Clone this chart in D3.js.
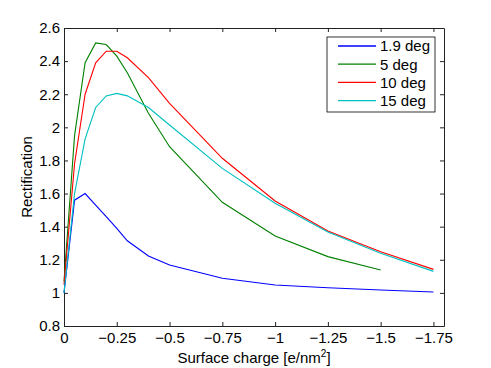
<!DOCTYPE html>
<html>
<head>
<meta charset="utf-8">
<script src="https://cdn.jsdelivr.net/npm/d3@7"></script>
<style>
  body { margin: 0; background: #fff; }
  text { font-family: "Liberation Sans", Arial, sans-serif; }
</style>
</head>
<body>
<div id="chart"></div>
<script>
// surface charge values (e/nm^2), shared by all series
const CHARGE = [0, -0.05, -0.1, -0.15, -0.2, -0.25, -0.3, -0.4, -0.5, -0.75, -1, -1.25, -1.5, -1.75];

// rectification
const DEG_1_9 = [1.0, 1.56, 1.60, 1.53, 1.46, 1.39, 1.315, 1.223, 1.168, 1.088, 1.048, 1.031, 1.017, 1.005];
const DEG_5 = [1.07, 1.95, 2.39, 2.51, 2.50, 2.43, 2.33, 2.085, 1.883, 1.547, 1.344, 1.219, 1.138];
const DEG_10 = [1.05, 1.78, 2.20, 2.39, 2.46, 2.46, 2.42, 2.30, 2.145, 1.813, 1.555, 1.374, 1.249, 1.142];
const DEG_15 = [1.0, 1.6, 1.93, 2.12, 2.19, 2.205, 2.19, 2.12, 2.014, 1.752, 1.541, 1.368, 1.239, 1.13];

const SERIES_NAMES = ["1.9 deg", "5 deg", "10 deg", "15 deg"];
const SERIES_VALUES = [DEG_1_9, DEG_5, DEG_10, DEG_15];
const COLORS = ["#0000ff", "#008000", "#ff0000", "#00bfbf"];

const X_TICKS = [0, -0.25, -0.5, -0.75, -1, -1.25, -1.5, -1.75];
const Y_TICKS = [0.8, 1, 1.2, 1.4, 1.6, 1.8, 2, 2.2, 2.4, 2.6];

const WIDTH = 491;
const HEIGHT = 368;
const margin = { left: 64, right: 47, top: 28, bottom: 42 };
const FONT = 15;

const svg = d3.select("#chart")
  .append("svg")
  .attr("width", WIDTH)
  .attr("height", HEIGHT);

const xScale = d3.scaleLinear()
  .domain([0, -1.8])
  .range([margin.left, WIDTH - margin.right]);
const yScale = d3.scaleLinear()
  .domain([0.8, 2.6])
  .range([HEIGHT - margin.bottom, margin.top]);

const fmtX = d => d === 0 ? "0" : "\u2212" + Math.abs(d);
const fmtY = d => String(d);

// axes: ticks point inward on all four sides, matlab style
const xAxis = svg.append("g")
  .attr("transform", `translate(0, ${yScale.range()[0]})`)
  .call(d3.axisBottom(xScale).tickValues(X_TICKS).tickFormat(fmtX)
    .tickSizeInner(-4).tickSizeOuter(0).tickPadding(6));
svg.append("g")
  .attr("transform", `translate(0, ${yScale.range()[1]})`)
  .call(d3.axisTop(xScale).tickValues(X_TICKS).tickFormat("")
    .tickSizeInner(-4).tickSizeOuter(0));
const yAxis = svg.append("g")
  .attr("transform", `translate(${xScale.range()[0]}, 0)`)
  .call(d3.axisLeft(yScale).tickValues(Y_TICKS).tickFormat(fmtY)
    .tickSizeInner(-4).tickSizeOuter(0).tickPadding(4));
svg.append("g")
  .attr("transform", `translate(${xScale.range()[1]}, 0)`)
  .call(d3.axisRight(yScale).tickValues(Y_TICKS).tickFormat("")
    .tickSizeInner(-4).tickSizeOuter(0));

svg.selectAll(".domain").attr("stroke", "#222");
svg.selectAll(".tick line").attr("stroke", "#222");
svg.selectAll(".tick text")
  .attr("font-size", FONT)
  .attr("font-family", "Liberation Sans, Arial, sans-serif")
  .attr("fill", "#000");

// lines
const line = d3.line()
  .x((d, i) => xScale(CHARGE[i]))
  .y(d => yScale(d));

svg.append("g")
  .selectAll("path")
  .data(SERIES_VALUES)
  .join("path")
  .attr("d", d => line(d))
  .attr("fill", "none")
  .attr("stroke", (d, i) => COLORS[i])
  .attr("stroke-width", 1.1);

// axis labels
const xLabel = svg.append("text")
  .attr("x", (xScale.range()[0] + xScale.range()[1]) / 2)
  .attr("y", 363)
  .attr("text-anchor", "middle")
  .attr("font-size", FONT);
xLabel.append("tspan").text("Surface charge [e/nm");
xLabel.append("tspan").attr("font-size", 10).attr("dy", -6).text("2");
xLabel.append("tspan").attr("dy", 6).text("]");

svg.append("text")
  .attr("transform", `translate(32, ${(yScale.range()[0] + yScale.range()[1]) / 2}) rotate(-90)`)
  .attr("text-anchor", "middle")
  .attr("font-size", FONT)
  .text("Rectification");

// legend
const legend = svg.append("g").attr("transform", "translate(327, 37)");
legend.append("rect")
  .attr("width", 108)
  .attr("height", 75)
  .attr("fill", "#fff")
  .attr("stroke", "#000")
  .attr("stroke-width", 0.8);

const row = legend.selectAll(".legend-row")
  .data(SERIES_NAMES)
  .join("g")
  .attr("class", "legend-row")
  .attr("transform", (d, i) => `translate(0, ${9 + i * 18.2})`);
row.append("line")
  .attr("x1", 11).attr("x2", 49)
  .attr("stroke", (d, i) => COLORS[i])
  .attr("stroke-width", 1.3);
row.append("text")
  .attr("x", 53)
  .attr("dy", "0.36em")
  .attr("font-size", FONT)
  .text(d => d);
</script>
</body>
</html>
